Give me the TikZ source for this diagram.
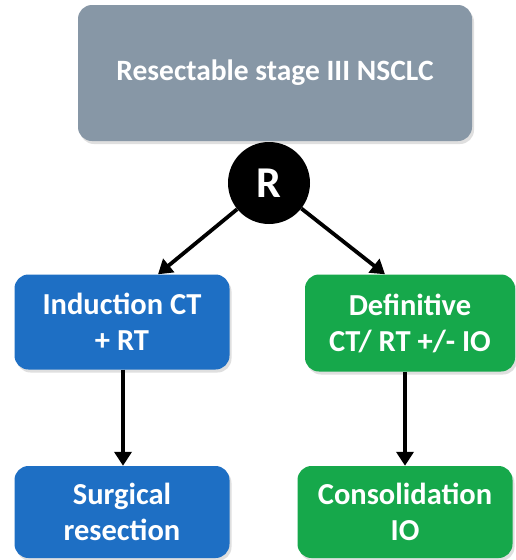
\documentclass[tikz,border=0pt]{standalone}
\usepackage{fontspec}
\setmainfont{Carlito}
\usetikzlibrary{arrows.meta,shadows}
\definecolor{boxgray}{RGB}{135,151,166}
\definecolor{boxblue}{RGB}{30,111,196}
\definecolor{boxgreen}{RGB}{22,168,75}
\tikzset{
  card/.style={rounded corners=14pt, text=white, align=center, inner sep=0pt, font=\bfseries\fontsize{30.5}{36}\selectfont,
    drop shadow={shadow xshift=2pt,shadow yshift=-3pt,opacity=0.25}},
  conn/.style={line width=3.8pt, -{Triangle[length=14pt,width=17pt]}}
}
\begin{document}
\begin{tikzpicture}[x=1pt,y=-1pt]
\useasboundingbox (0,0) rectangle (516,560);
\fill[white] (0,0) rectangle (516,560);
\node[card, fill=boxgray, minimum width=394pt, minimum height=136pt, font=\bfseries\fontsize{29.5}{34}\selectfont] (top) at (275,73) {Resectable stage III NSCLC};
\node[card, fill=boxblue, minimum width=215pt, minimum height=95pt] (ind) at (122,322) {Induction CT\\+ RT};
\node[card, fill=boxgreen, minimum width=210pt, minimum height=97pt] (def) at (410,323) {Definitive\\CT/ RT +/- IO};
\node[card, fill=boxblue, minimum width=215pt, minimum height=92pt] (sur) at (122,512) {Surgical\\resection};
\node[card, fill=boxgreen, minimum width=215pt, minimum height=92pt] (con) at (405,512) {Consolidation\\IO};
\node[circle, fill=black, minimum size=82pt, inner sep=0pt, text=white, font=\bfseries\fontsize{44}{48}\selectfont] (r) at (269,183) {R};
\draw[conn] (r) -- (ind.north -| 158,0);
\draw[conn] (r) -- (def.north -| 385,0);
\draw[conn] (ind.south -| 123,0) -- (sur.north -| 123,0);
\draw[conn] (def.south -| 405,0) -- (con.north -| 405,0);
\end{tikzpicture}
\end{document}
